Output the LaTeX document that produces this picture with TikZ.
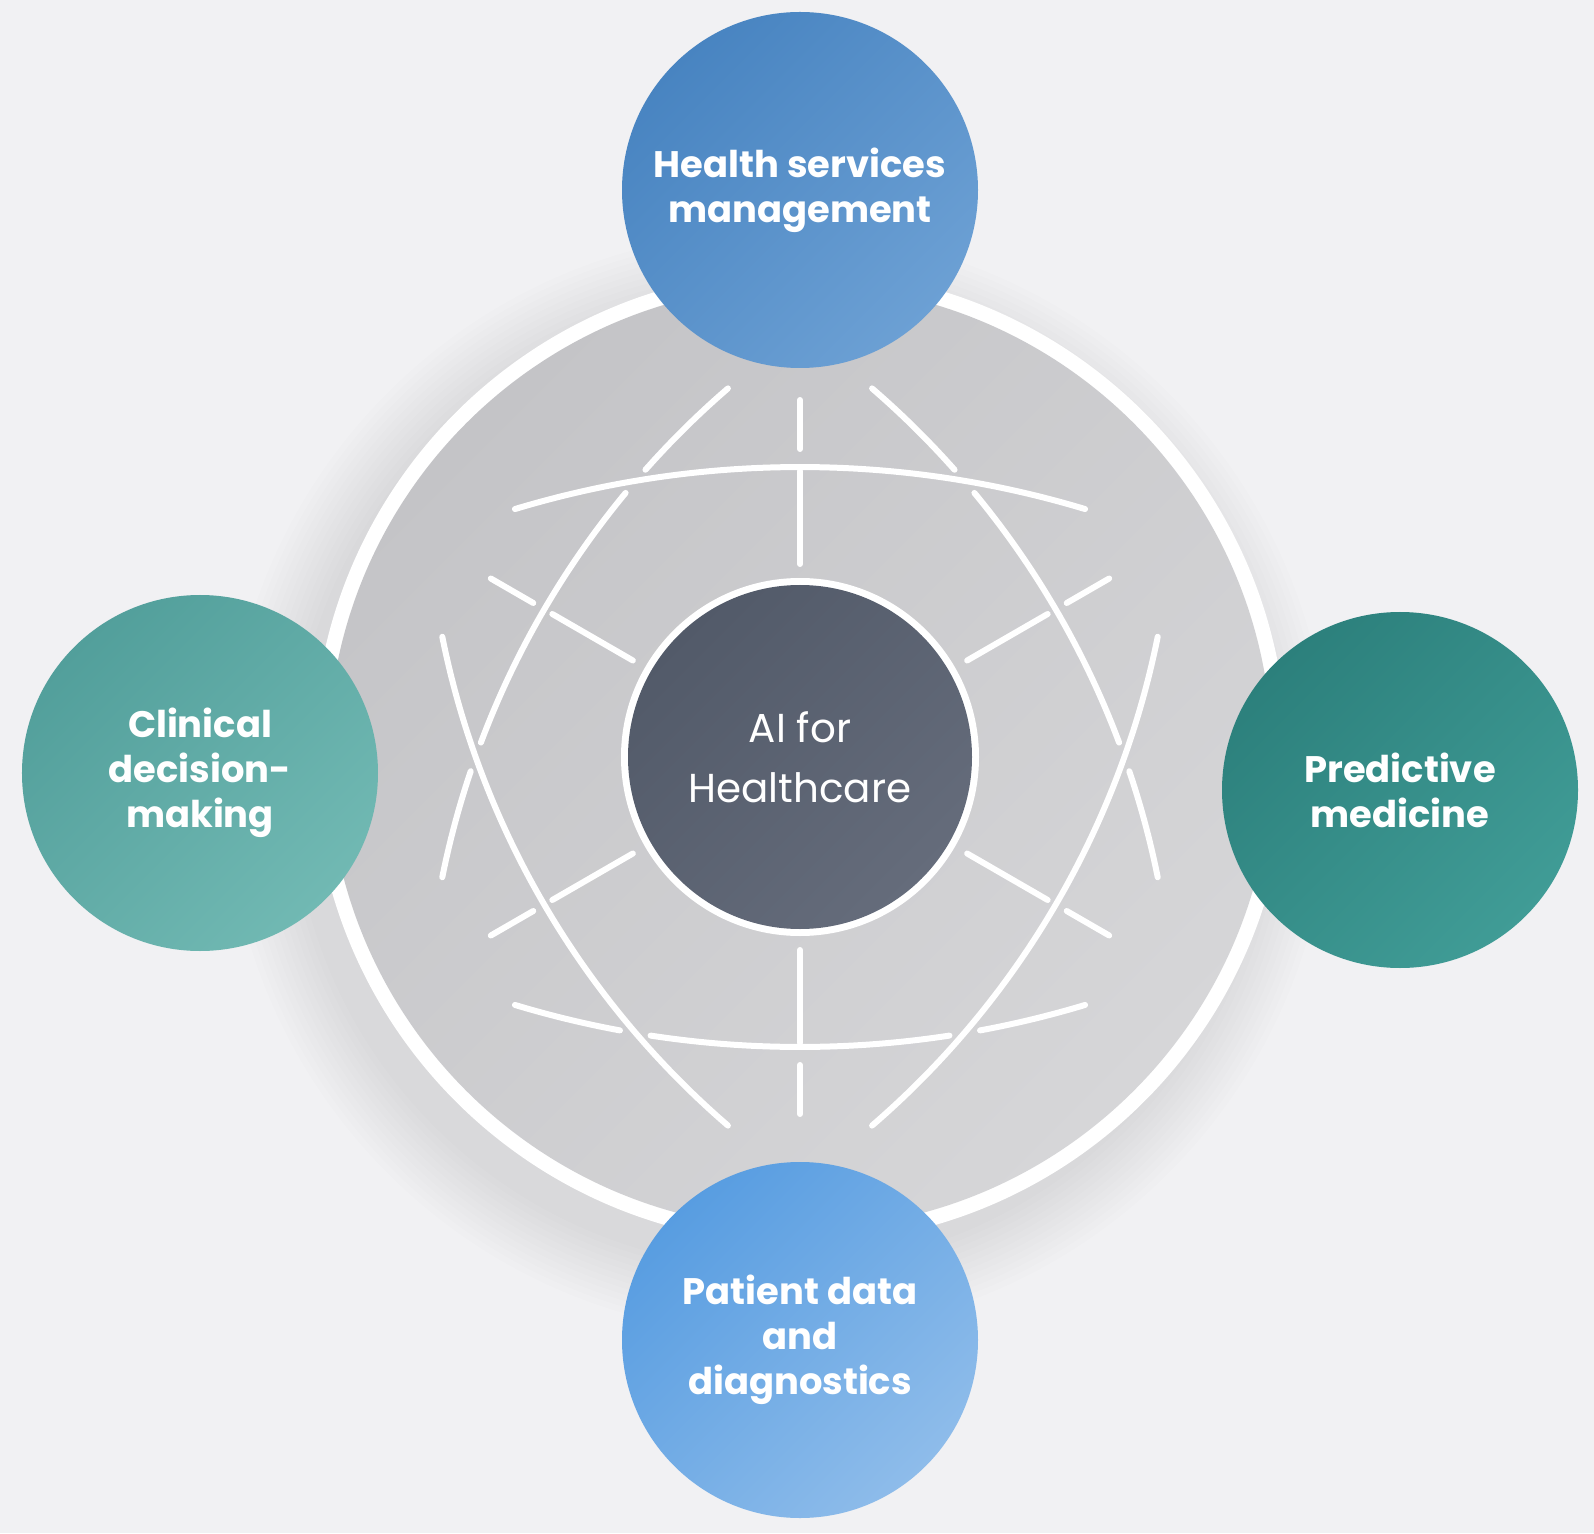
\documentclass[tikz,border=0pt]{standalone}
\usepackage{fontspec}
\setmainfont{Poppins}
\usepackage{xcolor}
\usepackage{tikz}
\usetikzlibrary{calc}

\definecolor{backgr}{RGB}{241,241,243}
\definecolor{diskdark}{RGB}{196,196,199}
\definecolor{disklight}{RGB}{214,214,216}
\definecolor{aidark}{RGB}{82,90,105}
\definecolor{ailight}{RGB}{101,108,123}
\definecolor{hsmdark}{RGB}{72,132,193}
\definecolor{hsmlight}{RGB}{108,160,212}
\definecolor{cdmdark}{RGB}{82,159,155}
\definecolor{cdmlight}{RGB}{113,185,179}
\definecolor{pmdark}{RGB}{44,128,124}
\definecolor{pmlight}{RGB}{64,156,150}
\definecolor{pdddark}{RGB}{88,157,225}
\definecolor{pddlight}{RGB}{142,188,234}

\begin{document}
\begin{tikzpicture}[
    globeline/.style={white, line width=0.06cm, line cap=round},
    topic/.style={circle, minimum size=3.56cm, inner sep=0pt, text=white, align=center,
      font=\fontsize{10.5}{12.8}\selectfont\bfseries},
    tint/.style n args={2}{top color=#1, bottom color=#2, shading angle=45}
  ]
  \fill[backgr] (-8.00,-7.76) rectangle (7.94,7.57);
  \useasboundingbox (-8.00,-7.76) rectangle (7.94,7.57);

  % soft halo round the globe
  \foreach \k in {1,...,12}
    \fill[black, opacity=0.007] (-0.22,-0.26) circle ({4.80+0.06*\k});

  \node[circle, fill=white, minimum size=9.74cm, inner sep=0pt] (ring) at (0,0) {};
  \node[circle, minimum size=9.44cm, inner sep=0pt, tint={diskdark}{disklight}] (disk) at (0,0) {};

  % spokes
  \foreach \a in {30,90,...,330} {
    \draw[globeline] (\a:1.93) -- (\a:2.86);
    \draw[globeline] (\a:3.08) -- (\a:3.57);
  }

  % latitudes and meridians
  \foreach \cx/\cy/\r/\s/\e in {
      0/-6.98/9.88/73.23/106.77,
      0/6.98/9.88/253.23/259.5, 0/6.98/9.88/261.3/278.7, 0/6.98/9.88/280.5/286.77,
      4.99/-2.93/8.74/130.8/138.4, 4.99/-2.93/8.74/140.4/159.4, 4.99/-2.93/8.74/161.4/168.6,
      4.99/2.93/8.74/191.4/229.2,
      -4.99/-2.93/8.74/41.6/49.2, -4.99/-2.93/8.74/20.6/39.6, -4.99/-2.93/8.74/11.4/18.6,
      -4.99/2.93/8.74/310.8/348.6}
    \draw[globeline] (\cx,\cy) ++(\s:\r) arc[start angle=\s, end angle=\e, radius=\r];

  \node[circle, fill=white, minimum size=3.58cm, inner sep=0pt] (aiRing) at (0,0) {};
  \node[circle, minimum size=3.44cm, inner sep=0pt, tint={aidark}{ailight},
    text=white, align=center, font=\fontsize{11.5}{17}\selectfont] (ai) at (0,0) {AI for\\Healthcare};

  \node[topic, tint={hsmdark}{hsmlight}] (hsm) at (0,5.67) {Health services\\management};
  \node[topic, tint={cdmdark}{cdmlight}] (cdm) at (-6.00,-0.16) {Clinical\\decision-\\making};
  \node[topic, tint={pmdark}{pmlight}] (pm) at (6.00,-0.33) {Predictive\\medicine};
  \node[topic, tint={pdddark}{pddlight}] (pdd) at (0,-5.83) {Patient data\\and\\diagnostics};
\end{tikzpicture}
\end{document}
